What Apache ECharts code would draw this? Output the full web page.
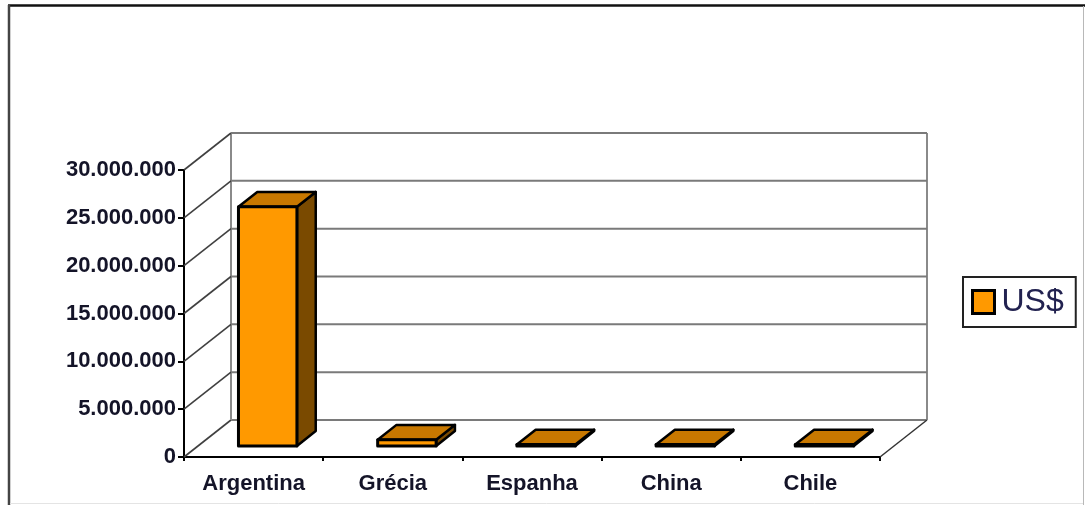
<!DOCTYPE html>
<html>
<head>
<meta charset="utf-8">
<style>
  html, body { margin: 0; padding: 0; background: #fff; }
  #chart { width: 1087px; height: 505px; }
</style>
<script src="https://cdn.jsdelivr.net/npm/echarts@6/dist/echarts.min.js"></script>
</head>
<body>
<div id="chart"></div>
<script>
// Exports by destination country, in US$
const categories = ['Argentina', 'Grécia', 'Espanha', 'China', 'Chile'];
const valuesUSD = [25000000, 650000, 150000, 150000, 150000];
const yTicks = [0, 5000000, 10000000, 15000000, 20000000, 25000000, 30000000];
const seriesName = 'US$';

// Oblique projection used for the pseudo-3D walls and prisms
const DEPTH = { dx: 47, dy: -37 };
const BAR_FRONT = 0.3;   // depth fraction of the bar's front face
const BAR_DEPTH = 0.4;   // depth fraction occupied by the bar
const BAR_WIDTH = 0.42;  // share of the category band

const FONT = 'Liberation Sans, Arial, sans-serif';

function dotted(v) {
  return String(v).replace(/\B(?=(\d{3})+(?!\d))/g, '.');
}

// Side wall diagonals, back wall grid lines and the floor outline
function renderWalls(params, api) {
  const cs = params.coordSys;
  const y = api.coord([0, api.value(1)])[1];
  const children = [
    { type: 'line', shape: { x1: cs.x, y1: y, x2: cs.x + DEPTH.dx, y2: y + DEPTH.dy },
      style: { stroke: '#404040', lineWidth: 1.6 } },
    { type: 'line', shape: { x1: cs.x + DEPTH.dx, y1: y + DEPTH.dy, x2: cs.x + cs.width + DEPTH.dx, y2: y + DEPTH.dy },
      style: { stroke: '#7a7a7a', lineWidth: 2 } }
  ];
  if (params.dataIndex === 0) {
    const bx = cs.x + DEPTH.dx, top = cs.y + DEPTH.dy, bottom = cs.y + cs.height + DEPTH.dy;
    children.push(
      { type: 'line', shape: { x1: bx, y1: top, x2: bx, y2: bottom }, style: { stroke: '#8a8a8a', lineWidth: 2 } },
      { type: 'line', shape: { x1: bx + cs.width, y1: top, x2: bx + cs.width, y2: bottom }, style: { stroke: '#8a8a8a', lineWidth: 2 } },
      { type: 'line', shape: { x1: cs.x + cs.width, y1: cs.y + cs.height, x2: bx + cs.width, y2: bottom },
        style: { stroke: '#333', lineWidth: 1.5 } }
    );
  }
  return { type: 'group', children: children };
}

// Prism bar: front face, top face and right side face
function renderBar(params, api) {
  const i = api.value(0), v = api.value(1);
  const base = api.coord([i, 0]);
  const topPt = api.coord([i, v]);
  const band = api.size([1, 0])[0];
  const w = band * BAR_WIDTH;
  const ox = DEPTH.dx * BAR_FRONT, oy = DEPTH.dy * BAR_FRONT;
  const ddx = DEPTH.dx * BAR_DEPTH, ddy = DEPTH.dy * BAR_DEPTH;
  const x0 = base[0] - w / 2 + ox, x1 = base[0] + w / 2 + ox;
  const yb = base[1] + oy, yt = topPt[1] + oy;
  const border = { stroke: '#000', lineWidth: 2.5, lineJoin: 'round' };
  return {
    type: 'group',
    children: [
      { type: 'polygon', shape: { points: [[x1, yt], [x1 + ddx, yt + ddy], [x1 + ddx, yb + ddy], [x1, yb]] },
        style: Object.assign({ fill: '#7a4a00' }, border) },
      { type: 'polygon', shape: { points: [[x0, yt], [x1, yt], [x1 + ddx, yt + ddy], [x0 + ddx, yt + ddy]] },
        style: Object.assign({ fill: '#c87800' }, border) },
      { type: 'rect', shape: { x: x0, y: yt, width: x1 - x0, height: yb - yt },
        style: Object.assign({ fill: '#ff9900' }, border, { lineWidth: 3 }) }
    ]
  };
}

const chart = echarts.init(document.getElementById('chart'), null, { renderer: 'canvas' });
chart.setOption({
  backgroundColor: '#fff',
  animation: false,
  grid: { left: 184, right: 207, top: 170, bottom: 48 },
  legend: {
    data: [seriesName],
    left: 963, top: 277,
    padding: [9, 12, 9, 8],
    borderColor: '#222', borderWidth: 2,
    icon: 'rect', itemWidth: 22, itemHeight: 23, itemGap: 0,
    itemStyle: { color: '#ff9900', borderColor: '#000', borderWidth: 3 },
    textStyle: { fontFamily: FONT, fontSize: 32, color: '#222250', padding: [0, 0, 0, 2] }
  },
  xAxis: {
    type: 'category',
    data: categories,
    boundaryGap: true,
    axisLine: { lineStyle: { color: '#000', width: 2 } },
    axisTick: { show: true, length: 4, lineStyle: { color: '#000', width: 2 } },
    axisLabel: { margin: 16, fontFamily: FONT, fontSize: 22, fontWeight: 'bold', color: '#141428' },
    splitLine: { show: false }
  },
  yAxis: {
    type: 'value',
    min: yTicks[0],
    max: yTicks[yTicks.length - 1],
    interval: yTicks[1] - yTicks[0],
    axisLine: { show: true, lineStyle: { color: '#000', width: 2 } },
    axisTick: { show: true, length: 6, lineStyle: { color: '#000', width: 2 } },
    axisLabel: { margin: 8, fontFamily: FONT, fontSize: 22, fontWeight: 'bold', color: '#141428',
                 formatter: dotted },
    splitLine: { show: false }
  },
  series: [
    {
      name: 'walls',
      type: 'custom',
      silent: true,
      z: 1,
      renderItem: renderWalls,
      encode: { x: 0, y: 1 },
      data: yTicks.map(function (v) { return [0, v]; })
    },
    {
      name: seriesName,
      type: 'custom',
      z: 3,
      itemStyle: { color: '#ff9900', borderColor: '#000', borderWidth: 3 },
      renderItem: renderBar,
      encode: { x: 0, y: 1 },
      data: valuesUSD.map(function (v, i) { return [i, v]; })
    }
  ],
  graphic: [
    { type: 'line', shape: { x1: 8, y1: 5.5, x2: 1085, y2: 5.5 }, style: { stroke: '#111', lineWidth: 2.5 }, silent: true },
    { type: 'line', shape: { x1: 9, y1: 5, x2: 9, y2: 505 }, style: { stroke: '#444', lineWidth: 2.5 }, silent: true },
    { type: 'line', shape: { x1: 1083.5, y1: 6, x2: 1083.5, y2: 505 }, style: { stroke: '#b8b8b8', lineWidth: 1 }, silent: true },
    { type: 'line', shape: { x1: 10, y1: 503.5, x2: 1083, y2: 503.5 }, style: { stroke: '#e4e4e4', lineWidth: 1 }, silent: true }
  ]
});
</script>
</body>
</html>
